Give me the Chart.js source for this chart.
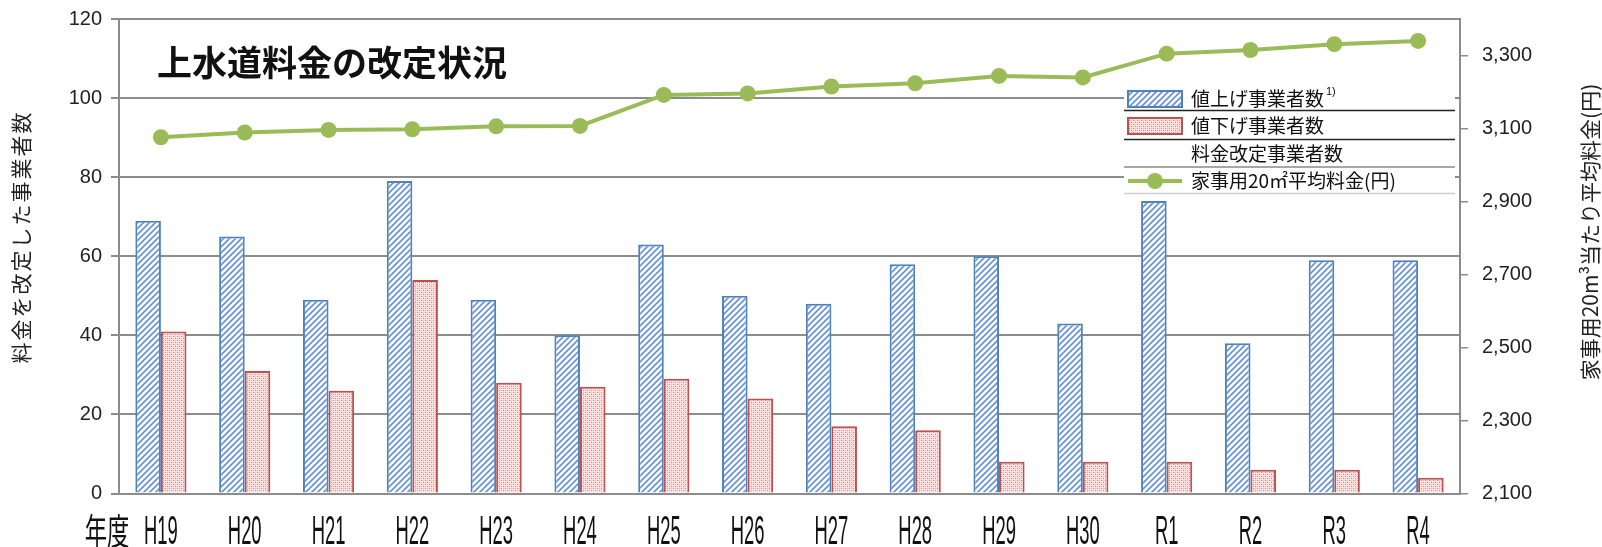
<!DOCTYPE html>
<html lang="ja">
<head>
<meta charset="utf-8">
<title>上水道料金の改定状況</title>
<script src="https://cdn.jsdelivr.net/npm/chart.js@4/dist/chart.umd.min.js"></script>
<style>
  html, body { margin: 0; padding: 0; background: #fff; }
  #chart { display: block; }
</style>
</head>
<body>
<canvas id="chart" width="1602" height="547"></canvas>
<script>
// 年度
const years = ['H19', 'H20', 'H21', 'H22', 'H23', 'H24', 'H25', 'H26', 'H27', 'H28', 'H29', 'H30', 'R1', 'R2', 'R3', 'R4'];
// 値上げ事業者数
const raiseCounts = [69, 65, 49, 79, 49, 40, 63, 50, 48, 58, 60, 43, 74, 38, 59, 59];
// 値下げ事業者数
const cutCounts = [41, 31, 26, 54, 28, 27, 29, 24, 17, 16, 8, 8, 8, 6, 6, 4];
// 家事用20m3平均料金(円)
const avgFee = [3076, 3089, 3096, 3098, 3106, 3107, 3192, 3196, 3215, 3224, 3244, 3240, 3305, 3315, 3331, 3340];

// tick labels
const countTickValues = [0, 20, 40, 60, 80, 100, 120];
const feeTickValues = [2100, 2300, 2500, 2700, 2900, 3100, 3300];
const feeMax = 3400;

const CJK = '"Noto Sans CJK JP", "Noto Sans", sans-serif';
const NUM = '"Liberation Sans", Arial, sans-serif';

// hatch fill for the blue bars
function makeHatch() {
    const c = document.createElement('canvas');
    c.width = 6; c.height = 6;
    const g = c.getContext('2d');
    g.fillStyle = '#ffffff';
    g.fillRect(0, 0, 6, 6);
    g.strokeStyle = '#6592d2';
    g.lineWidth = 1.6;
    g.beginPath();
    g.moveTo(-1, 7); g.lineTo(7, -1);
    g.moveTo(-4, 4); g.lineTo(4, -4);
    g.moveTo(2, 10); g.lineTo(10, 2);
    g.stroke();
    return g.createPattern(c, 'repeat');
}

// dotted fill for the red bars
function makeDots() {
    const c = document.createElement('canvas');
    c.width = 4; c.height = 4;
    const g = c.getContext('2d');
    g.fillStyle = '#fbe0e0';
    g.fillRect(0, 0, 4, 4);
    g.fillStyle = '#e07f7f';
    g.fillRect(1, 0, 1, 1);
    g.fillRect(3, 2, 1, 1);
    g.fillStyle = '#f2b3b3';
    g.fillRect(1, 2, 1, 1);
    g.fillRect(3, 0, 1, 1);
    return g.createPattern(c, 'repeat');
}

const blueFill = makeHatch();
const redFill = makeDots();

// let the layout padding alone decide where the plot starts
function noTickPad(scale) {
    scale.paddingTop = 0;
    scale.paddingBottom = 0;
}

const extras = {
    id: 'extras',
    beforeDraw(chart) {
        const ctx = chart.ctx;
        ctx.save();
        ctx.fillStyle = '#fff';
        ctx.fillRect(0, 0, chart.width, chart.height);
        ctx.restore();
    },
    afterDraw(chart) {
        const ctx = chart.ctx;
        const x = chart.scales.x;
        ctx.save();
        ctx.fillStyle = '#111';

        // title inside plot
        ctx.font = 'bold 35px ' + CJK;
        ctx.textAlign = 'left';
        ctx.textBaseline = 'middle';
        ctx.fillText('上水道料金の改定状況', 157, 63);

        // condensed category labels
        ctx.textAlign = 'center';
        ctx.textBaseline = 'middle';
        years.forEach((lab, i) => {
            ctx.save();
            ctx.translate(x.getPixelForValue(i), 533);
            ctx.scale(0.46, 1);
            ctx.font = '40px ' + NUM;
            ctx.fillText(lab, 0, 0);
            ctx.restore();
        });
        ctx.save();
        ctx.translate(107, 531);
        ctx.scale(0.62, 1);
        ctx.font = '36px ' + CJK;
        ctx.fillText('年度', 0, 0);
        ctx.restore();

        // axis titles, both read bottom to top
        ctx.font = '21px ' + CJK;
        ctx.fillStyle = '#222';
        ctx.save();
        ctx.translate(21, 237);
        ctx.rotate(-Math.PI / 2);
        ctx.letterSpacing = '2px';
        ctx.fillText('料金を改定した事業者数', 0, 0);
        ctx.restore();
        ctx.save();
        ctx.translate(1590, 232);
        ctx.rotate(-Math.PI / 2);
        ctx.fillText('家事用20m³当たり平均料金(円)', 0, 0);
        ctx.restore();

        // legend table
        const lx = 1124, rx = 1455;
        ctx.fillStyle = '#fff';
        ctx.fillRect(lx, 88, rx - lx, 106);
        const rows = [
            { text: '値上げ事業者数', y: 99, fill: blueFill, border: '#4f81bd', rule: '#222', ruleY: 110.5 },
            { text: '値下げ事業者数', y: 126, fill: redFill, border: '#c0504d', rule: '#222', ruleY: 139.5 },
            { text: '料金改定事業者数', y: 154, rule: '#8a8a8a', ruleY: 167 },
            { text: '家事用20㎡平均料金(円)', y: 181, line: '#9bbb59', rule: '#cfcfcf', ruleY: 193.5 }
        ];
        ctx.textAlign = 'left';
        ctx.font = '19px ' + CJK;
        rows.forEach(r => {
            if (r.fill) {
                ctx.fillStyle = r.fill;
                ctx.fillRect(1128, r.y - 8, 54, 16);
                ctx.strokeStyle = r.border;
                ctx.lineWidth = 2;
                ctx.strokeRect(1128, r.y - 8, 54, 16);
            }
            if (r.line) {
                ctx.strokeStyle = r.line;
                ctx.lineWidth = 4;
                ctx.beginPath();
                ctx.moveTo(1128, r.y); ctx.lineTo(1182, r.y);
                ctx.stroke();
                ctx.fillStyle = r.line;
                ctx.beginPath();
                ctx.arc(1155, r.y, 8, 0, Math.PI * 2);
                ctx.fill();
            }
            ctx.fillStyle = '#111';
            ctx.fillText(r.text, 1191, r.y);
            ctx.strokeStyle = r.rule;
            ctx.lineWidth = 1.5;
            ctx.beginPath();
            ctx.moveTo(lx, r.ruleY); ctx.lineTo(rx, r.ruleY);
            ctx.stroke();
        });
        // footnote mark
        const w = ctx.measureText(rows[0].text).width;
        ctx.font = '11px ' + NUM;
        ctx.fillText('1)', 1191 + w + 2, 92);

        ctx.restore();
    }
};

const ctx = document.getElementById('chart').getContext('2d');
const chart = new Chart(ctx, {
    type: 'bar',
    data: {
        labels: years,
        datasets: [
            {
                type: 'line',
                label: '家事用20㎡平均料金(円)',
                data: avgFee,
                yAxisID: 'y1',
                borderColor: '#9bbb59',
                backgroundColor: '#9bbb59',
                borderWidth: 4,
                pointRadius: 8,
                pointBackgroundColor: '#9bbb59',
                pointBorderWidth: 0,
                tension: 0,
                order: 0
            },
            {
                label: '値上げ事業者数',
                data: raiseCounts,
                yAxisID: 'y',
                backgroundColor: blueFill,
                borderColor: '#4f81bd',
                borderWidth: 2,
                categoryPercentage: 0.61,
                barPercentage: 1.0,
                order: 1
            },
            {
                label: '値下げ事業者数',
                data: cutCounts,
                yAxisID: 'y',
                backgroundColor: redFill,
                borderColor: '#c0504d',
                borderWidth: 2,
                categoryPercentage: 0.61,
                barPercentage: 1.0,
                order: 1
            }
        ]
    },
    options: {
        responsive: false,
        animation: false,
        devicePixelRatio: 1,
        layout: { padding: { top: 19, left: 0, right: 0, bottom: 0 } },
        plugins: {
            legend: { display: false },
            tooltip: { enabled: false }
        },
        scales: {
            x: {
                offset: true,
                grid: { display: false },
                border: { display: true, color: '#8c8c8c', width: 2 },
                ticks: { display: false },
                afterFit(scale) { scale.height = 53.5; }
            },
            y: {
                position: 'left',
                min: countTickValues[0],
                max: countTickValues[countTickValues.length - 1],
                afterBuildTicks(scale) { scale.ticks = countTickValues.map(v => ({ value: v })); },
                ticks: {
                    color: '#222',
                    font: { family: NUM, size: 20 },
                    padding: 9
                },
                grid: { color: '#8c8c8c', lineWidth: 2, tickLength: 8 },
                border: { color: '#8c8c8c', width: 2 },
                afterFit(scale) { scale.width = 119; noTickPad(scale); }
            },
            y1: {
                position: 'right',
                min: feeTickValues[0],
                max: feeMax,
                afterBuildTicks(scale) { scale.ticks = feeTickValues.map(v => ({ value: v })); },
                ticks: {
                    color: '#222',
                    font: { family: NUM, size: 20 },
                    padding: 14,
                    callback: v => v.toLocaleString('en-US')
                },
                grid: { drawOnChartArea: false, color: '#8c8c8c', lineWidth: 1.5, tickLength: 8 },
                border: { color: '#8c8c8c', width: 2 },
                afterFit(scale) { scale.width = 142; noTickPad(scale); }
            }
        }
    },
    plugins: [extras]
});
</script>
</body>
</html>
